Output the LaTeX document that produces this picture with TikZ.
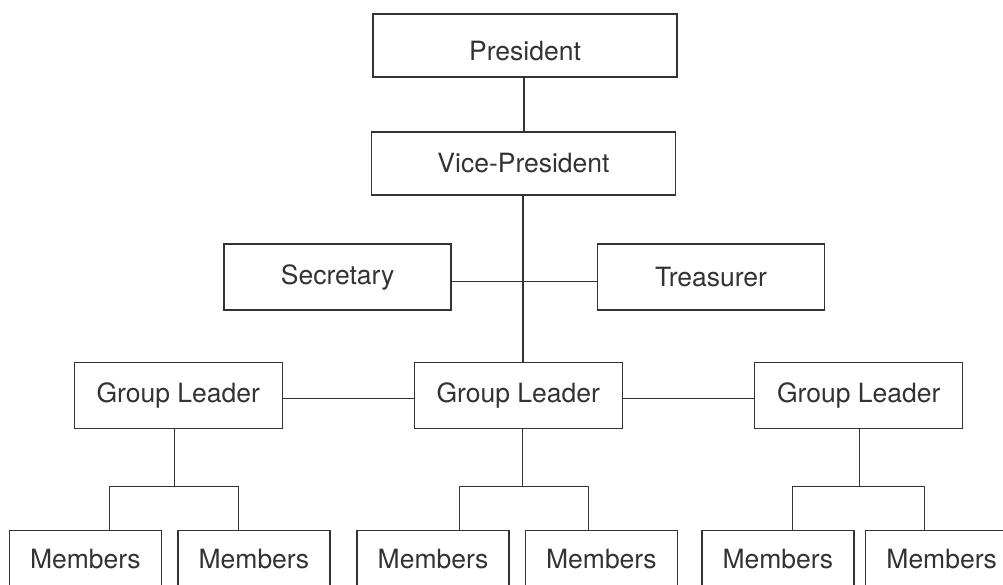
\documentclass[tikz,border=0pt]{standalone}
\usepackage{fontspec}
\setmainfont{TeX Gyre Heros}
\usetikzlibrary{calc}
\definecolor{ink}{HTML}{333333}
\begin{document}
\begin{tikzpicture}[x=1pt,y=-1pt,
  box/.style={draw=ink, line width=1.4pt, text=ink, inner sep=0pt,
    font=\fontsize{26.5}{30}\selectfont, anchor=center},
  wide/.style={box, minimum width=304pt, minimum height=63pt},
  office/.style={box, minimum width=227pt, minimum height=66pt},
  leader/.style={box, minimum width=208pt, minimum height=66pt},
  member/.style={box, minimum width=152pt, minimum height=57.5pt},
  link/.style={draw=ink, line width=1.3pt}]
\clip (0,0) rectangle (1003,585);
\fill[white] (0,0) rectangle (1003,585);

% officers
\node[wide] (pres) at (525,45.5) {\raisebox{-14.8pt}[0pt][0pt]{President}};
\node[wide] (vp) at (523.5,163.5) {Vice-President};
\node[office] (sec) at (337.6,277) {Secretary};
\node[office] (tre) at (711,277) {Treasurer};

% group leaders
\node[leader] (gl1) at (178.3,395.4) {Group Leader};
\node[leader] (gl2) at (518.3,395.4) {Group Leader};
\node[leader] (gl3) at (858.7,395.4) {Group Leader};

% members
\node[member] (m1) at (85.3,559.2) {Members};
\node[member] (m2) at (253.9,559.2) {Members};
\node[member] (m3) at (433,559.2) {Members};
\node[member] (m4) at (601.4,559.2) {Members};
\node[member] (m5) at (777.8,559.2) {Members};
\node[member] (m6) at (941.7,559.2) {Members};

% columns of the vertical links
\coordinate (c0) at (524,0);
\coordinate (c1) at (523,0);
% junctions above each pair of member boxes
\coordinate (b1) at (174.3,486.7);
\coordinate (b2) at (522.7,486.7);
\coordinate (b3) at (859.3,486.7);
% drop points
\coordinate (d1) at (109.3,0);
\coordinate (d2) at (238.7,0);
\coordinate (d3) at (459.3,0);
\coordinate (d4) at (588.7,0);
\coordinate (d5) at (792.7,0);
\coordinate (d6) at (924.3,0);

% chain of command
\draw[link] (pres.south -| c0) -- (vp.north -| c0);
\draw[link] (vp.south -| c1) -- (gl2.north -| c1);
\draw[link] ($(sec.east)+(0,4.7)$) -- ($(tre.west)+(0,4.7)$);
\draw[link] ($(gl1.east)+(0,3)$) -- ($(gl2.west)+(0,3)$);
\draw[link] ($(gl2.east)+(0,3)$) -- ($(gl3.west)+(0,3)$);

% leaders to members
\draw[link] (gl1.south -| b1) -- (b1);
\draw[link] (gl2.south -| b2) -- (b2);
\draw[link] (gl3.south -| b3) -- (b3);
\draw[link] (m1.north -| d1) |- (b1) -| (m2.north -| d2);
\draw[link] (m3.north -| d3) |- (b2) -| (m4.north -| d4);
\draw[link] (m5.north -| d5) |- (b3) -| (m6.north -| d6);
\end{tikzpicture}
\end{document}
